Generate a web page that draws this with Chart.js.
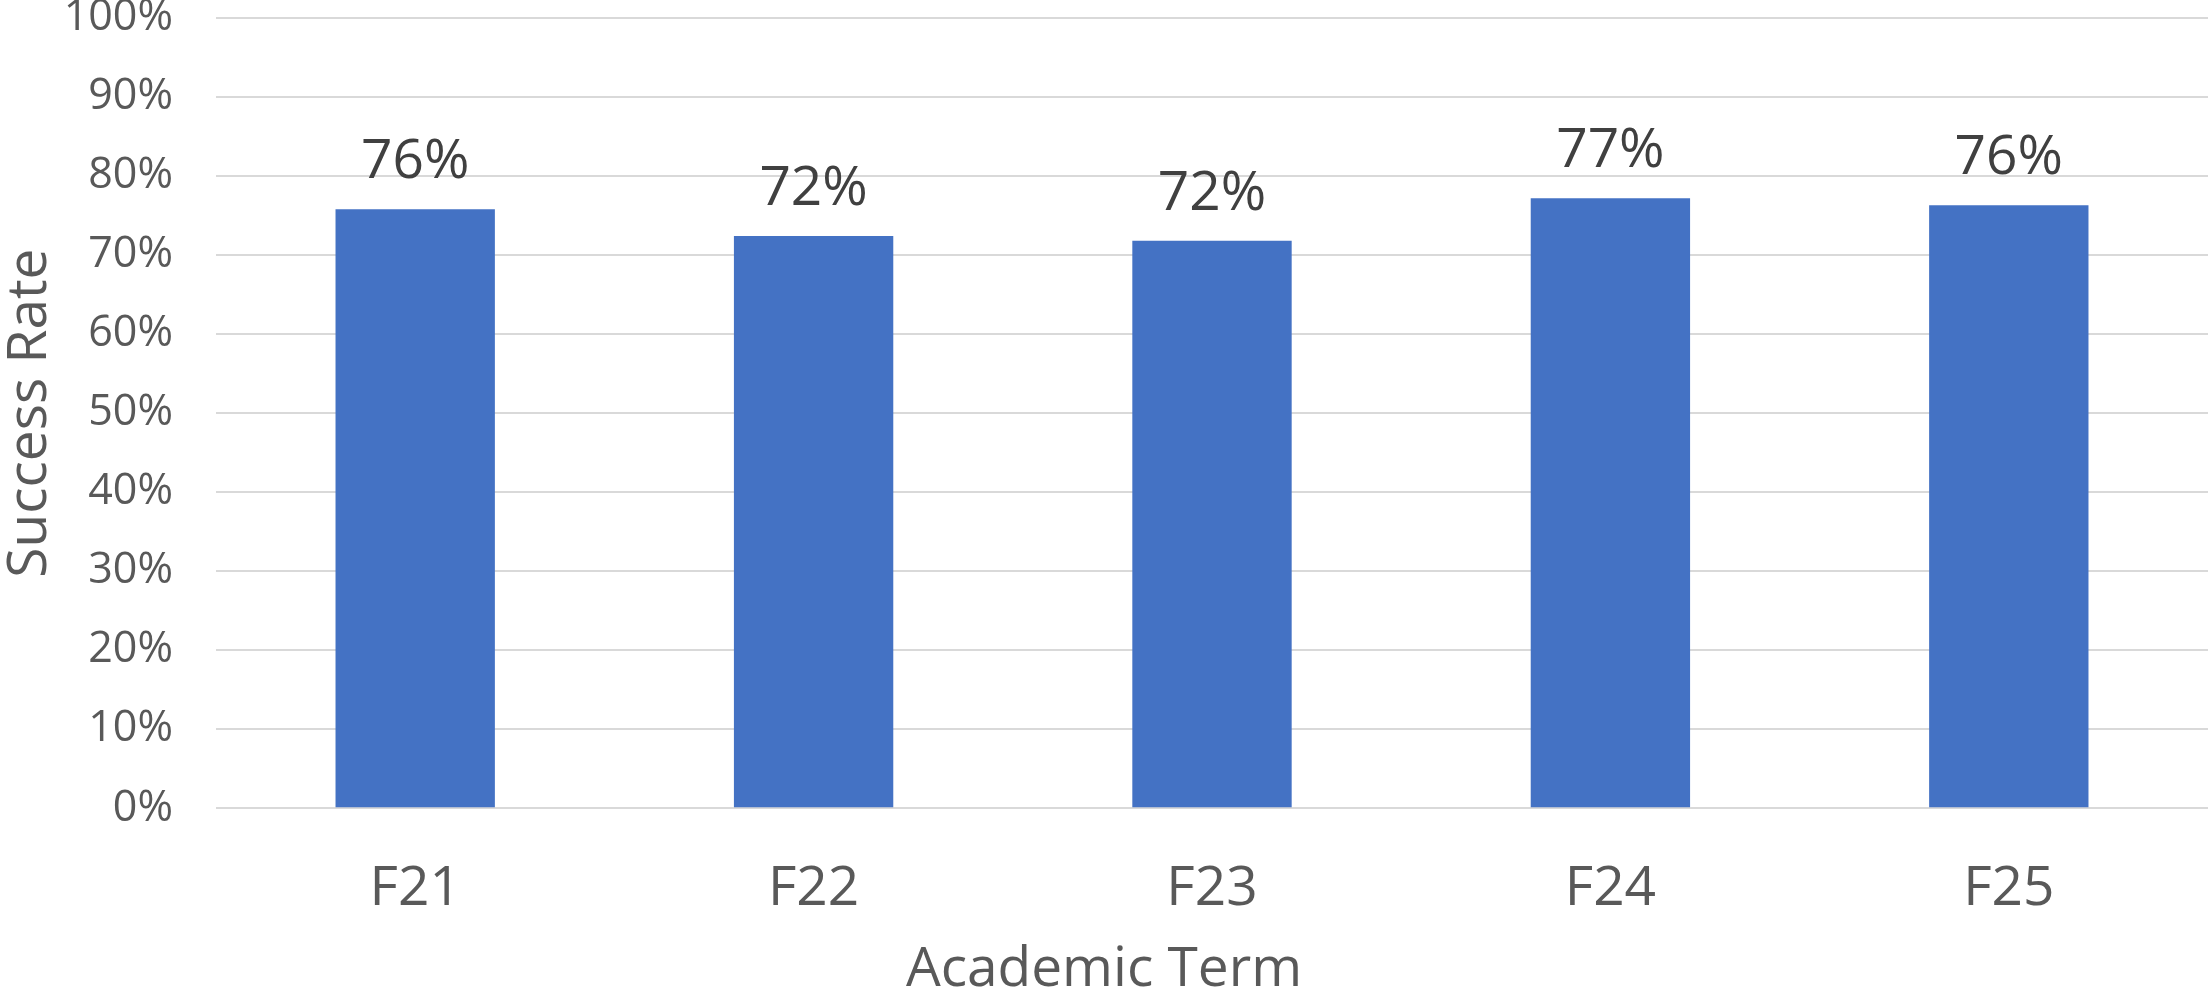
<!DOCTYPE html>
<html>
<head>
<meta charset="utf-8">
<script src="https://cdn.jsdelivr.net/npm/chart.js@4"></script>
<style>
  body { margin: 0; background: #fff; }
  canvas { display: block; }
</style>
</head>
<body>
<canvas id="chart" width="2211" height="994"></canvas>
<script>
const terms = ['F21', 'F22', 'F23', 'F24', 'F25'];
const successRates = [75.8, 72.4, 71.8, 77.2, 76.3];
const yTicks = [0, 10, 20, 30, 40, 50, 60, 70, 80, 90, 100];

// value labels above bars
const barLabels = {
  id: 'barLabels',
  afterDatasetsDraw(chart) {
    const ctx = chart.ctx;
    const meta = chart.getDatasetMeta(0);
    ctx.save();
    ctx.font = '55px "Open Sans"';
    ctx.fillStyle = '#404040';
    ctx.textAlign = 'center';
    ctx.textBaseline = 'alphabetic';
    meta.data.forEach((bar, i) => {
      ctx.fillText(Math.round(successRates[i]) + '%', bar.x, bar.y - 31);
    });
    ctx.restore();
  }
};

const ctx = document.getElementById('chart').getContext('2d');
const myChart = new Chart(ctx, {
  type: 'bar',
  data: {
    labels: terms,
    datasets: [{
      label: 'Success Rate',
      data: successRates,
      backgroundColor: '#4472C4',
      barPercentage: 0.4,
      categoryPercentage: 1
    }]
  },
  options: {
    responsive: false,
    animation: false,
    layout: { padding: { top: 18, right: 3, bottom: 0, left: 0 } },
    plugins: {
      legend: { display: false },
      tooltip: { enabled: false },
      title: {
        display: true,
        position: 'bottom',
        text: 'Academic Term',
        color: '#595959',
        font: { family: 'Open Sans', size: 55, weight: 'normal', lineHeight: 0.85 },
        padding: { top: 0, bottom: 0 }
      }
    },
    scales: {
      x: {
        afterFit(axis) {
          axis.height = 139;
        },
        grid: { display: false },
        border: { display: false },
        ticks: {
          color: '#595959',
          font: { family: 'Open Sans', size: 55, lineHeight: 1.2 },
          padding: 40
        }
      },
      y: {
        min: 0,
        max: 100,
        afterBuildTicks(axis) {
          axis.ticks = yTicks.map(v => ({ value: v }));
        },
        afterFit(axis) {
          axis.width = 216;
          axis.paddingTop = 0;
          axis.paddingBottom = 0;
        },
        grid: { color: '#d9d9d9', lineWidth: 2, drawTicks: false },
        border: { display: false },
        ticks: {
          color: '#595959',
          font: { family: 'Open Sans', size: 43, lineHeight: 1 },
          padding: 43,
          callback: v => v + '%'
        },
        title: {
          display: true,
          text: 'Success Rate',
          color: '#595959',
          font: { family: 'Open Sans', size: 55, lineHeight: 1.1 },
          padding: { top: 0, bottom: 0 }
        }
      }
    }
  },
  plugins: [barLabels]
});
</script>
</body>
</html>
